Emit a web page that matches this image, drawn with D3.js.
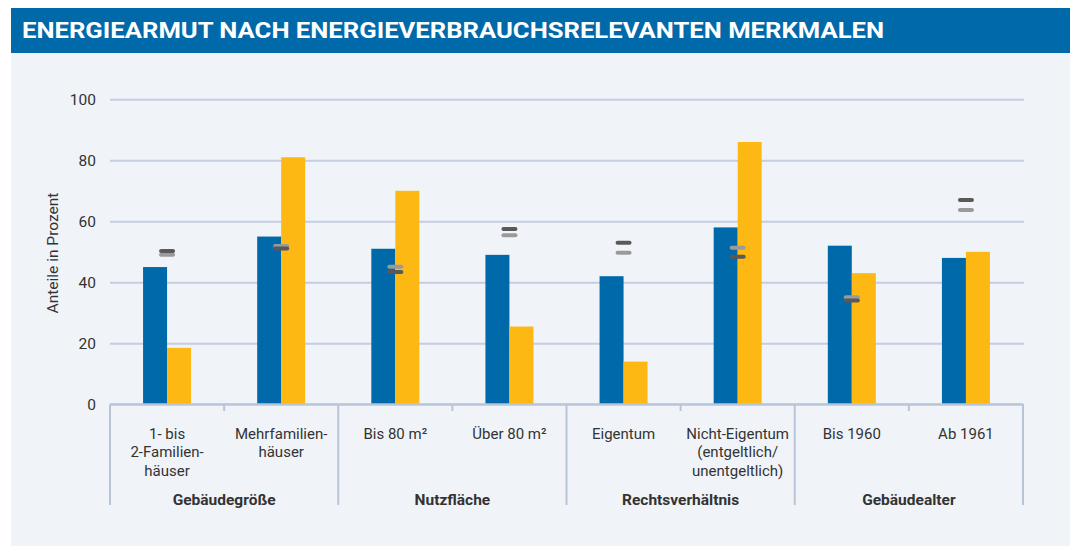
<!DOCTYPE html>
<html>
<head>
<meta charset="utf-8">
<script src="https://cdn.jsdelivr.net/npm/d3@7"></script>
<style>
  body { margin: 0; background: #fff; }
  text { font-family: Roboto, "Liberation Sans", sans-serif; }
</style>
</head>
<body>
<div id="chart"></div>
<script>
const categories = [
  ["1- bis", "2-Familien-", "häuser"],
  ["Mehrfamilien-", "häuser"],
  ["Bis 80 m²"],
  ["Über 80 m²"],
  ["Eigentum"],
  ["Nicht-Eigentum", "(entgeltlich/", "unentgeltlich)"],
  ["Bis 1960"],
  ["Ab 1961"],
];
const groups = ["Gebäudegröße", "Nutzfläche", "Rechtsverhältnis", "Gebäudealter"];
const blueValues = [45, 55, 51, 49, 42, 58, 52, 48];
const yellowValues = [18.5, 81, 70, 25.5, 14, 86, 43, 50];
const darkMarks = [50.3, 51.1, 43.4, 57.5, 53, 48.4, 34, 67];
const lightMarks = [49, 51.9, 45.1, 55.4, 49.7, 51.3, 35.1, 63.7];
const yTicks = [0, 20, 40, 60, 80, 100];

const width = 1075;
const height = 546;
const margin = { top: 100, bottom: 142, left: 110, right: 52 };

const svg = d3
  .select("#chart")
  .append("svg")
  .attr("width", width)
  .attr("height", height);

// Panel + title bar

svg.append("rect")
  .attr("x", 11).attr("y", 53)
  .attr("width", 1059).attr("height", height - 53)
  .attr("fill", "#f0f4f9");

svg.append("rect")
  .attr("x", 11).attr("y", 8)
  .attr("width", 1059).attr("height", 45)
  .attr("fill", "#0069aa");

svg.append("text")
  .attr("x", 22)
  .attr("y", 38)
  .attr("fill", "#fff")
  .attr("font-size", "22px")
  .attr("font-weight", 700)
  .attr("textLength", 862)
  .attr("lengthAdjust", "spacingAndGlyphs")
  .text("ENERGIEARMUT NACH ENERGIEVERBRAUCHSRELEVANTEN MERKMALEN");

// Scales

const idx = d3.range(categories.length);

const xScale = d3
  .scaleBand()
  .domain(idx)
  .range([margin.left, width - margin.right]);

const xInner = d3
  .scaleBand()
  .domain(["blue", "yellow"])
  .range([-24, 24]);

const yScale = d3
  .scaleLinear()
  .domain([0, 100])
  .range([404.3, 99.3]);

// Grid / y axis

const yAxis = svg
  .append("g")
  .attr("transform", `translate(${margin.left}, 0)`)
  .call(
    d3.axisLeft(yScale)
      .tickValues(yTicks)
      .tickSize(-(width - margin.right - margin.left + 1))
      .tickPadding(14)
  );

yAxis.select(".domain").remove();
yAxis.selectAll(".tick line")
  .attr("stroke", "#c5cde0")
  .attr("stroke-width", 2);
yAxis.selectAll(".tick text")
  .attr("fill", "#333")
  .attr("font-size", "15.5px")
  .attr("font-family", "Roboto, sans-serif");

svg.append("text")
  .attr("transform", `translate(58, 253) rotate(-90)`)
  .attr("text-anchor", "middle")
  .attr("font-size", "15.5px")
  .attr("fill", "#333")
  .text("Anteile in Prozent");

// Bars

const rows = idx.map((i) => ({ i, blue: blueValues[i], yellow: yellowValues[i] }));

const cat = svg
  .selectAll("g.cat")
  .data(rows)
  .enter()
  .append("g")
  .attr("class", "cat")
  .attr("transform", (d) => `translate(${xScale(d.i) + xScale.bandwidth() / 2}, 0)`);

cat.append("rect")
  .attr("x", xInner("blue"))
  .attr("width", xInner.bandwidth())
  .attr("y", (d) => yScale(d.blue))
  .attr("height", (d) => yScale(0) - yScale(d.blue))
  .attr("fill", "#0069aa");

cat.append("rect")
  .attr("x", xInner("yellow"))
  .attr("width", xInner.bandwidth())
  .attr("y", (d) => yScale(d.yellow))
  .attr("height", (d) => yScale(0) - yScale(d.yellow))
  .attr("fill", "#fdb813");

// Reference markers

cat.append("line")
  .attr("x1", -6).attr("x2", 6)
  .attr("y1", (d) => yScale(lightMarks[d.i]))
  .attr("y2", (d) => yScale(lightMarks[d.i]))
  .attr("stroke", "#9a9a9a")
  .attr("stroke-width", 4)
  .attr("stroke-linecap", "round");

cat.append("line")
  .attr("x1", -6).attr("x2", 6)
  .attr("y1", (d) => yScale(darkMarks[d.i]))
  .attr("y2", (d) => yScale(darkMarks[d.i]))
  .attr("stroke", "#595959")
  .attr("stroke-width", 4)
  .attr("stroke-linecap", "round");

// X axis

const axisColor = "#b8c4d8";
const y0 = yScale(0);

svg.append("line")
  .attr("x1", margin.left).attr("x2", width - margin.right)
  .attr("y1", y0).attr("y2", y0)
  .attr("stroke", axisColor)
  .attr("stroke-width", 2);

const boundaries = d3.range(categories.length + 1).map((k) =>
  k < categories.length ? xScale(k) : xScale(k - 1) + xScale.bandwidth()
);

boundaries.forEach((bx, k) => {
  const isGroupEdge = k % 2 === 0;
  svg.append("line")
    .attr("x1", bx).attr("x2", bx)
    .attr("y1", y0).attr("y2", isGroupEdge ? 505 : 411)
    .attr("stroke", axisColor)
    .attr("stroke-width", 2);
});

cat.append("text")
  .attr("text-anchor", "middle")
  .attr("font-size", "15px")
  .attr("fill", "#333")
  .selectAll("tspan")
  .data((d) => categories[d.i])
  .enter()
  .append("tspan")
  .attr("x", 0)
  .attr("y", (d, j) => 439 + j * 18.3)
  .text((d) => d);

svg.selectAll("text.group")
  .data(groups)
  .enter()
  .append("text")
  .attr("class", "group")
  .attr("x", (d, g) => xScale(g * 2) + xScale.bandwidth())
  .attr("y", 505)
  .attr("text-anchor", "middle")
  .attr("font-size", "15.5px")
  .attr("font-weight", 700)
  .attr("fill", "#333")
  .text((d) => d);
</script>
</body>
</html>
